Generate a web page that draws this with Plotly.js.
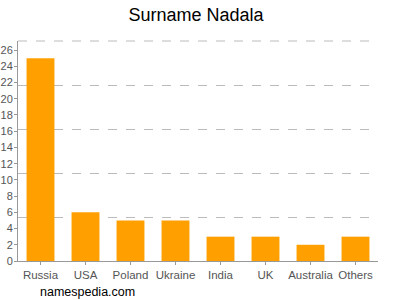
<!DOCTYPE html>
<html><head><meta charset="utf-8">
<script src="https://cdn.plot.ly/plotly-3.0.1.min.js"></script>
<style>body{margin:0}#c{width:400px;height:300px}</style>
</head><body><div id="c"></div>
<script>
const countries = ["Russia","USA","Poland","Ukraine","India","UK","Australia","Others"];
const counts = [25,6,5,5,3,3,2,3];
const yMax = 27.12;
const yTicks = [0,2,4,6,8,10,12,14,16,18,20,22,24,26];

const data = [{
  type:'bar', x:countries, y:counts,
  marker:{color:'#FFA000', line:{width:0}},
  hoverinfo:'x+y'
},{
  type:'scatter', x:countries, y:counts, yaxis:'y2', mode:'none', showlegend:false, hoverinfo:'skip'
}];
const layout = {
  width:400, height:300,
  margin:{l:18, r:22, t:41, b:39},
  paper_bgcolor:'#fff', plot_bgcolor:'#fff',
  showlegend:false,
  bargap:0.38,
  font:{family:'Liberation Sans, Arial, sans-serif', color:'#555', size:11},
  title:{text:'Surname Nadala', x:0.49, xanchor:'center', y:0.95, yanchor:'middle',
    font:{size:18, color:'#000', family:'Liberation Sans, Arial, sans-serif'}},
  xaxis:{showgrid:false, showline:true, linecolor:'#999', linewidth:1,
    ticks:'outside', ticklen:3, tickcolor:'#999', tickfont:{size:11.5, color:'#555'}, fixedrange:true},
  yaxis:{range:[0,yMax], tickvals:yTicks, ticktext:yTicks.map(String), showgrid:false,
    showline:true, linecolor:'#999', linewidth:1, ticks:'outside', ticklen:3, tickcolor:'#999',
    ticklabelstandoff:-1,
    tickfont:{size:11, color:'#555'}, zeroline:false, fixedrange:true},
  yaxis2:{range:[0,yMax], overlaying:'y', dtick:5.42, tick0:0, showgrid:true, gridcolor:'#bbb',
    griddash:'dash', gridwidth:1, showticklabels:false, ticks:'', zeroline:false, showline:false},
  shapes:[{type:'line', xref:'paper', yref:'paper', x0:0, x1:1, y0:1, y1:1,
    line:{color:'#bbb', width:1, dash:'dash'}, layer:'below'}],
  annotations:[{text:'namespedia.com', xref:'paper', yref:'paper', x:0.055, y:-0.141,
    xanchor:'left', yanchor:'middle', showarrow:false,
    font:{size:12.5, color:'#000', family:'Liberation Sans, Arial, sans-serif'}}]
};
Plotly.newPlot('c', data, layout, {displayModeBar:false, staticPlot:true});
</script></body></html>
